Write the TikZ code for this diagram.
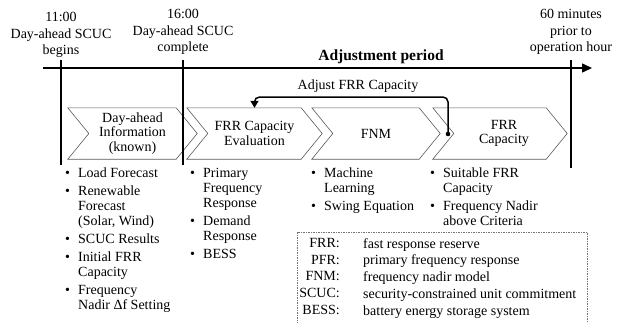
\documentclass[tikz,border=0pt]{standalone}
\usepackage{fontspec}
\setmainfont{Liberation Serif}
\usetikzlibrary{arrows.meta,calc}
\newcommand\bl[1]{\makebox[13pt][l]{\textbullet}#1}
\newcommand\cl[1]{\hspace*{13pt}#1}
\tikzset{
  txt/.style={font=\fontsize{14}{16.5}\selectfont, inner sep=0pt, align=center},
  chev/.style={font=\fontsize{14}{14.5}\selectfont, align=center, minimum height=51pt, inner sep=0pt},
  chevline/.style={draw=black!65, line width=0.6pt},
  tick/.style={line width=2pt},
  blist/.style={font=\fontsize{14}{15}\selectfont, inner sep=0pt, align=left, anchor=north west},
  legtxt/.style={font=\fontsize{14}{16.8}\selectfont, inner sep=0pt, anchor=north},
  legbox/.style={draw=black!55, line width=0.6pt, dash pattern=on 1.5pt off 1pt, minimum width=290pt, minimum height=95pt, anchor=north west, inner sep=0pt},
}
\begin{document}
\begin{tikzpicture}[x=1pt,y=-1pt]
\useasboundingbox (0,0) rectangle (621,322);
% headers
\node[txt] (h1) at (61,35) {11:00\\Day-ahead SCUC\\begins};
\node[txt] (h2) at (183,32) {16:00\\Day-ahead SCUC\\complete};
\node[txt] (h3) at (571,32) {60 minutes\\prior to\\operation hour};
\node[txt, font=\fontsize{15.5}{16.5}\selectfont\bfseries] (ap) at (381,57) {Adjustment period};
% chevrons
\node[chev, minimum width=129pt] (c1) at (132.5,133.5) {Day-ahead\\Information\\(known)};
\node[chev, minimum width=135pt] (c2) at (254.5,133.5) {FRR Capacity\\Evaluation};
\node[chev, minimum width=128pt] (c3) at (376,133.5) {FNM};
\node[chev, minimum width=134pt] (c4) at (500,133.5) {\hspace*{8pt}FRR\\\hspace*{8pt}Capacity};
\foreach \c in {c1,c2,c3,c4}
  \draw[chevline] (\c.north west) -- ($(\c.north east)+(-21,0)$) -- (\c.east)
    -- ($(\c.south east)+(-21,0)$) -- (\c.south west) -- ($(\c.west)+(21,0)$) -- cycle;
% timeline
\coordinate (tl0) at (43,68);
\coordinate (tl1) at (592,68);
\draw[line width=1.5pt, -{Triangle[length=10pt,width=9pt]}] (tl0) -- (tl1);
\coordinate (t1a) at (61,60); \coordinate (t1b) at (61,165);
\coordinate (t2a) at (183,60); \coordinate (t2b) at (183,165);
\coordinate (t3a) at (571,60); \coordinate (t3b) at (571,168);
\draw[tick] (t1a) -- (t1b);
\draw[tick] (t2a) -- (t2b);
\draw[tick] (t3a) -- (t3b);
% feedback
\coordinate (fb) at (448,134);
\coordinate (fbtop) at (448,97);
\fill (fb) circle[radius=2.3pt];
\draw[line width=1.5pt, rounded corners=5pt, -{Triangle[length=7pt,width=8pt]}] (fb) -- (fbtop) -| (c2.north);
\node[txt] (adj) at (358,86) {Adjust FRR Capacity};
% bullet lists
\node[blist] (l1) at (65,168) {\bl{Load Forecast}\\[3pt]\bl{Renewable}\\\cl{Forecast}\\\cl{(Solar, Wind)}\\[3pt]\bl{SCUC Results}\\[3pt]\bl{Initial FRR}\\\cl{Capacity}\\[3pt]\bl{Frequency}\\\cl{Nadir Δf Setting}};
\node[blist] (l2) at (190,168) {\bl{Primary}\\\cl{Frequency}\\\cl{Response}\\[3pt]\bl{Demand}\\\cl{Response}\\[3pt]\bl{BESS}};
\node[blist] (l3) at (311,168) {\bl{Machine}\\\cl{Learning}\\[3pt]\bl{Swing Equation}};
\node[blist] (l4) at (430,168) {\bl{Suitable FRR}\\\cl{Capacity}\\[3pt]\bl{Frequency Nadir}\\\cl{above Criteria}};
% legend
\node[legbox] (lbox) at (297,232) {};
\node[legtxt, anchor=north east, align=right] (labb) at (340,238) {FRR:\\PFR:\\FNM:\\SCUC:\\BESS:};
\node[legtxt, anchor=north west, align=left] (ldesc) at (363,238) {fast response reserve\\primary frequency response\\frequency nadir model\\security-constrained unit commitment\\battery energy storage system};
\end{tikzpicture}
\end{document}
